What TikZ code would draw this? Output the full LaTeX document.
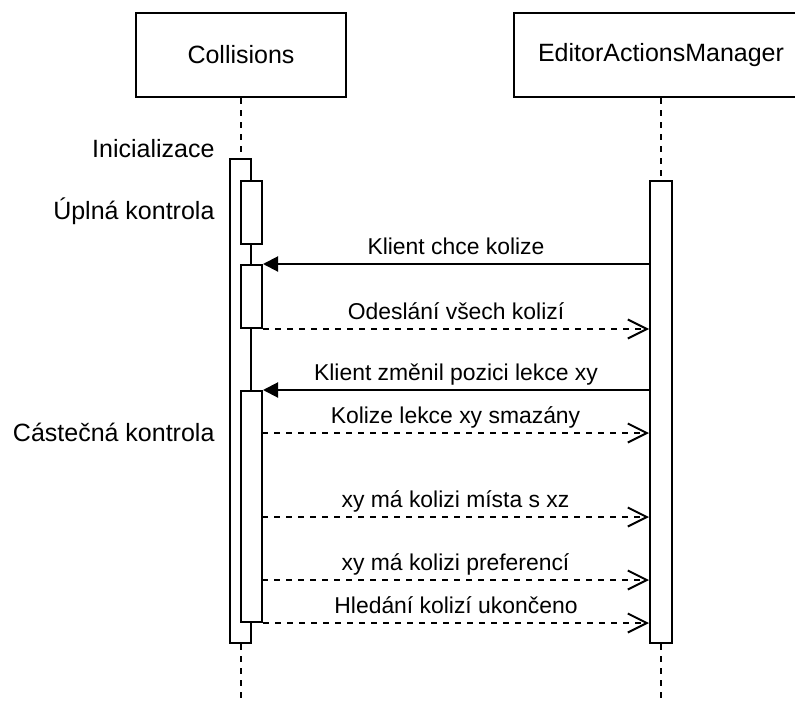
\documentclass[tikz,border=0pt]{standalone}
\usepackage{fontspec}
\setmainfont{Liberation Sans}
\usetikzlibrary{arrows.meta}

\tikzset{
  obj/.style={draw, line width=2pt, fill=white, inner sep=0pt, font=\fontsize{25}{30}\selectfont},
  act/.style={draw, line width=2pt, fill=white, inner sep=0pt, minimum width=21pt},
  life/.style={line width=2pt, dash pattern=on 6pt off 6pt},
  call/.style={line width=2pt, -{Triangle[length=15pt,width=15pt]}},
  reply/.style={line width=2pt, dash pattern=on 6pt off 6pt, -{Straight Barb[length=19pt,width=19pt]}},
  msg/.style={anchor=base, yshift=10pt, font=\fontsize{22.9}{27}\selectfont},
  phase/.style={anchor=base east, font=\fontsize{25}{30}\selectfont},
}

\begin{document}
\begin{tikzpicture}[x=1pt, y=-1pt]
\clip (0,0) rectangle (795,701);

% objects
\node[obj, minimum width=210pt, minimum height=84pt] (col) at (241,55) {Collisions};
\node[obj, minimum width=294pt, minimum height=84pt] (eam) at (661,55) {EditorActionsManager};

\coordinate (colend) at (241,701);
\coordinate (eamend) at (661,701);

% activations
\node[act, minimum height=484pt] (c0) at (240.5,401) {};
\node[act, minimum height=63pt] (c1) at (251.5,212.5) {};
\node[act, minimum height=63pt] (c2) at (251.5,296.5) {};
\node[act, minimum height=231pt] (c3) at (251.5,506.5) {};
\node[act, minimum width=22pt, minimum height=462pt] (e1) at (661,412) {};

% lifelines
\draw[life] (col.south) -- (c0.north -| col.south);
\draw[life] (c0.south -| col.south) -- (colend);
\draw[life] (eam.south) -- (e1.north);
\draw[life] (e1.south) -- (eamend);

% phases
\node[phase] (p1) at (218,157) {Inicializace};
\node[phase] (p2) at (218,219) {Úplná kontrola};
\node[phase] (p3) at (218,441) {Cástečná kontrola};

% messages
\draw[call] (e1.west |- c2.north east) -- (c2.north east) node[msg, midway] {Klient chce kolize};
\draw[reply] (c2.south east) -- (e1.west |- c2.south east) node[msg, midway] {Odeslání všech kolizí};

\draw[call] (e1.west |- c3.north east) -- (c3.north east) node[msg, midway] {Klient změnil pozici lekce xy};

\coordinate (m1) at (262,433);
\coordinate (m2) at (262,517);
\coordinate (m3) at (262,580);
\draw[reply] (m1) -- (e1.west |- m1) node[msg, midway] {Kolize lekce xy smazány};
\draw[reply] (m2) -- (e1.west |- m2) node[msg, midway] {xy má kolizi místa s xz};
\draw[reply] (m3) -- (e1.west |- m3) node[msg, midway] {xy má kolizi preferencí};
\draw[reply] (c3.south east) -- (e1.west |- c3.south east) node[msg, midway] {Hledání kolizí ukončeno};
\end{tikzpicture}
\end{document}
